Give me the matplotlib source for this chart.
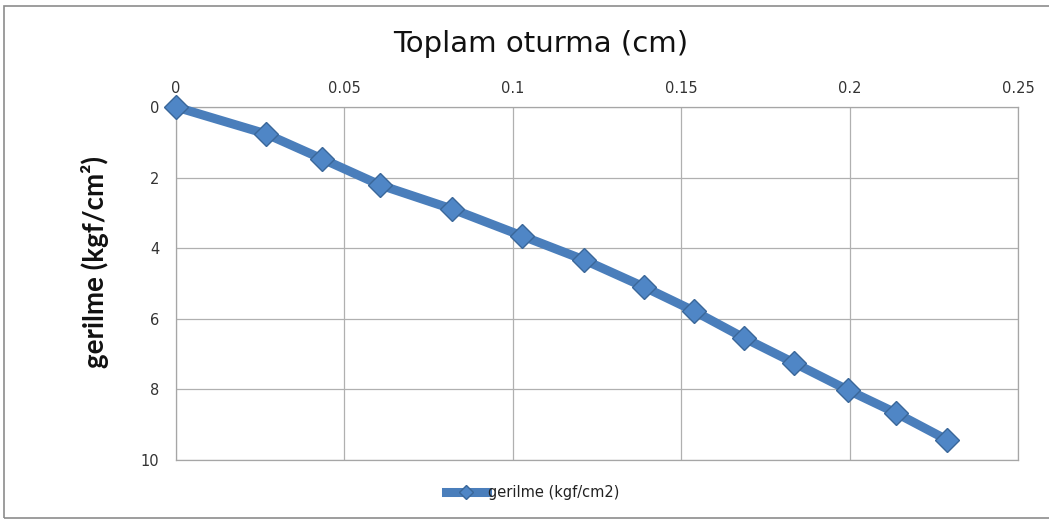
import matplotlib
matplotlib.use("Agg")
import matplotlib.pyplot as plt
from matplotlib.patches import Rectangle

oturma = [0, 0.0267, 0.0434, 0.0606, 0.0820, 0.1027, 0.1211, 0.1390, 0.1538, 0.1686, 0.1835, 0.1995, 0.2138, 0.2289]
gerilme = [0, 0.76, 1.47, 2.21, 2.89, 3.65, 4.33, 5.10, 5.78, 6.54, 7.25, 8.02, 8.67, 9.43]
xticks = [0, 0.05, 0.1, 0.15, 0.2, 0.25]
xticklabels = ["0", "0.05", "0.1", "0.15", "0.2", "0.25"]
yticks = [0, 2, 4, 6, 8, 10]

plt.rcParams['font.family'] = ['DejaVu Sans']
color = '#4A7EBB'

fig = plt.figure(figsize=(10.49, 5.2), dpi=100)
fig.patches.append(Rectangle((0.004, 0.003), 1.0, 0.985, transform=fig.transFigure,
                             fill=False, edgecolor='#8c8c8c', linewidth=1.2))
ax = fig.add_axes([0.1678, 0.1154, 0.8027, 0.6788])
ax.plot(oturma, gerilme, color=color, linewidth=6.5, marker='D', markersize=12.5,
        markerfacecolor='#4F86C6', markeredgecolor='#3A6799', markeredgewidth=1,
        label='gerilme (kgf/cm2)', zorder=3, clip_on=False)
ax.set_xlim(0, 0.25)
ax.set_ylim(10, 0)
ax.set_xticks(xticks)
ax.set_xticklabels(xticklabels)
ax.set_yticks(yticks)
ax.xaxis.tick_top()
ax.tick_params(length=0, labelsize=10.5, colors='#333333', pad=8)
ax.tick_params(axis='y', pad=12)
ax.grid(True, color='#b0b0b0', linewidth=0.9)
ax.set_axisbelow(True)
for s in ax.spines.values():
    s.set_color('#a6a6a6')
    s.set_linewidth(0.9)

fig.text(0.515, 0.915, 'Toplam oturma (cm)', ha='center', va='center', fontsize=21, color='#111111')
fig.text(0.091, 0.496, 'gerilme (kgf/cm²)', ha='center', va='center', rotation=90,
         fontsize=20, fontweight='bold', color='#111111', family=['Lato', 'DejaVu Sans'])
leg = fig.legend(loc='center', bbox_to_anchor=(0.508, 0.052), frameon=False, fontsize=10.5,
                 handlelength=2.8, handletextpad=0.1, markerscale=0.6)
for t in leg.get_texts():
    t.set_color('#222222')
fig.savefig('out.png', dpi=100)
